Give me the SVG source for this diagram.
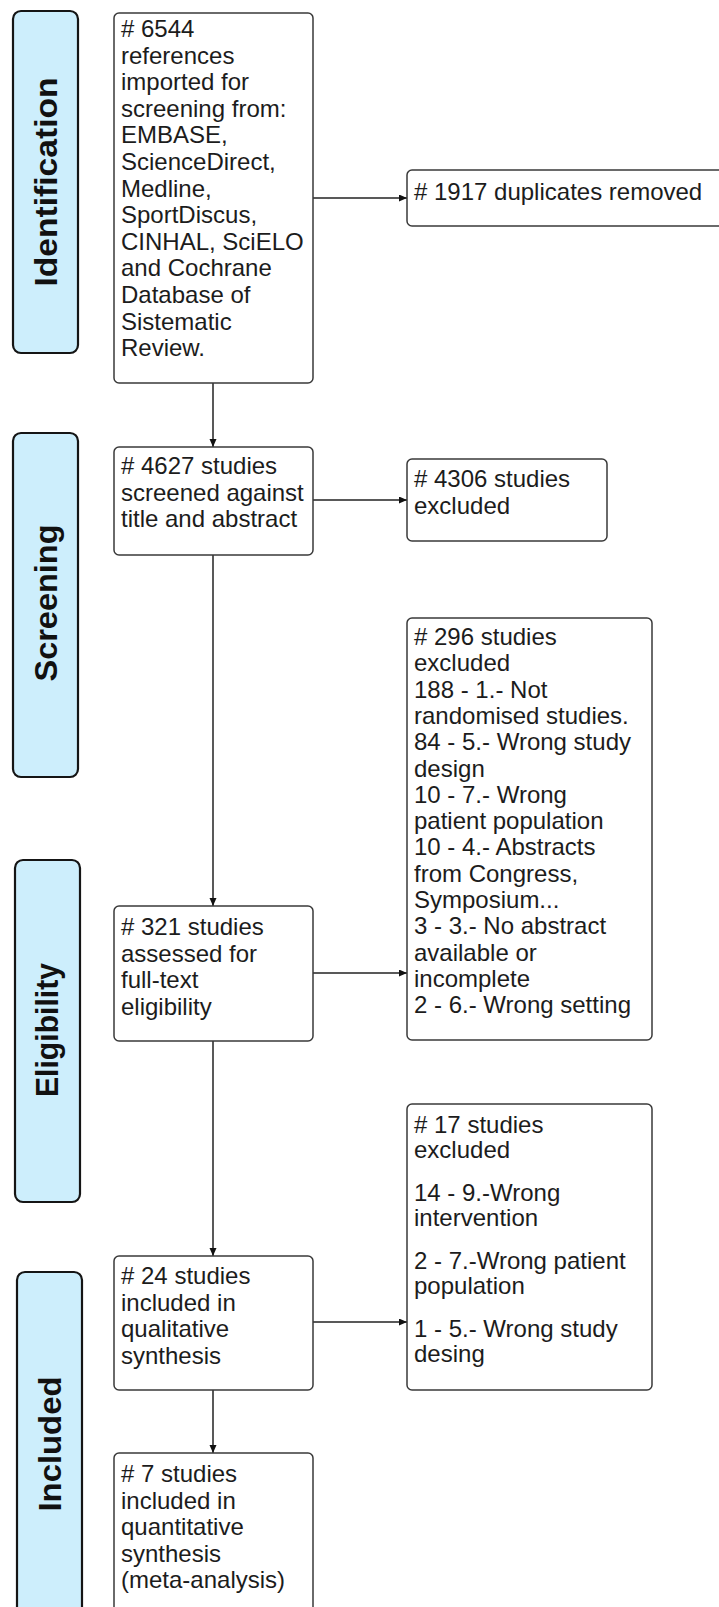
<svg xmlns="http://www.w3.org/2000/svg" width="719" height="1607" viewBox="0 0 719 1607">
<style>
.bg{fill:#ffffff}
.phase{fill:#cdeefc;stroke:#151515;stroke-width:2.2}
.ptxt{font-family:"Liberation Sans",Arial,sans-serif;font-weight:bold;font-size:32px;fill:#111;text-anchor:middle}
.box{fill:#ffffff;stroke:#3a3a3a;stroke-width:1.5}
.t{font-family:"Liberation Sans",Arial,sans-serif;font-size:24px;fill:#1c1c1c}
.conn{stroke:#222;stroke-width:1.5;fill:none;marker-end:url(#ah)}
</style>
<defs>
<marker id="ah" markerUnits="userSpaceOnUse" markerWidth="9" markerHeight="8" refX="8" refY="3.5" orient="auto">
<path d="M0,0 L8,3.5 L0,7 z" fill="#111"/>
</marker>
</defs>
<rect class="bg" x="0" y="0" width="719" height="1607"/>

<g id="phase-identification">
<rect class="phase" x="13" y="11" width="65" height="342" rx="8"/>
<text class="ptxt" transform="translate(57,182) rotate(-90)" textLength="209" lengthAdjust="spacingAndGlyphs">Identification</text>
</g>
<g id="phase-screening">
<rect class="phase" x="13" y="433" width="65" height="344" rx="8"/>
<text class="ptxt" transform="translate(57,603) rotate(-90)" textLength="157" lengthAdjust="spacingAndGlyphs">Screening</text>
</g>
<g id="phase-eligibility">
<rect class="phase" x="15" y="860" width="65" height="342" rx="8"/>
<text class="ptxt" transform="translate(58,1030) rotate(-90)" textLength="134" lengthAdjust="spacingAndGlyphs">Eligibility</text>
</g>
<g id="phase-included">
<rect class="phase" x="17" y="1272" width="65" height="360" rx="8"/>
<text class="ptxt" transform="translate(61,1444) rotate(-90)" textLength="135" lengthAdjust="spacingAndGlyphs">Included</text>
</g>

<g id="connectors">
<line class="conn" x1="213" y1="383" x2="213" y2="447"/>
<line class="conn" x1="313" y1="198" x2="407" y2="198"/>
<line class="conn" x1="313" y1="500" x2="407" y2="500"/>
<line class="conn" x1="213" y1="555" x2="213" y2="906"/>
<line class="conn" x1="313" y1="973" x2="407" y2="973"/>
<line class="conn" x1="213" y1="1041" x2="213" y2="1256"/>
<line class="conn" x1="313" y1="1322" x2="407" y2="1322"/>
<line class="conn" x1="213" y1="1390" x2="213" y2="1453"/>
</g>

<g id="n-records">
<rect class="box" x="114" y="13" width="199" height="370" rx="5"/>
<text class="t">
<tspan x="121" y="37"># 6544</tspan>
<tspan x="121" y="63.6">references</tspan>
<tspan x="121" y="90.2">imported for</tspan>
<tspan x="121" y="116.8">screening from:</tspan>
<tspan x="121" y="143.4">EMBASE,</tspan>
<tspan x="121" y="170">ScienceDirect,</tspan>
<tspan x="121" y="196.6">Medline,</tspan>
<tspan x="121" y="223.2">SportDiscus,</tspan>
<tspan x="121" y="249.8">CINHAL, SciELO</tspan>
<tspan x="121" y="276.4">and Cochrane</tspan>
<tspan x="121" y="303">Database of</tspan>
<tspan x="121" y="329.6">Sistematic</tspan>
<tspan x="121" y="356.2">Review.</tspan>
</text>
</g>

<g id="n-duplicates">
<rect class="box" x="407" y="170" width="330" height="56" rx="5"/>
<text class="t" x="414" y="200"># 1917 duplicates removed</text>
</g>

<g id="n-screened">
<rect class="box" x="114" y="447" width="199" height="108" rx="5"/>
<text class="t">
<tspan x="121" y="474"># 4627 studies</tspan>
<tspan x="121" y="500.5">screened against</tspan>
<tspan x="121" y="527">title and abstract</tspan>
</text>
</g>

<g id="n-excluded-screen">
<rect class="box" x="407" y="459" width="200" height="82" rx="5"/>
<text class="t">
<tspan x="414" y="487"># 4306 studies</tspan>
<tspan x="414" y="513.5">excluded</tspan>
</text>
</g>

<g id="n-excluded-full">
<rect class="box" x="407" y="618" width="245" height="422" rx="5"/>
<text class="t">
<tspan x="414" y="645"># 296 studies</tspan>
<tspan x="414" y="671.3">excluded</tspan>
<tspan x="414" y="697.6">188 - 1.- Not</tspan>
<tspan x="414" y="723.9">randomised studies.</tspan>
<tspan x="414" y="750.2">84 - 5.- Wrong study</tspan>
<tspan x="414" y="776.5">design</tspan>
<tspan x="414" y="802.8">10 - 7.- Wrong</tspan>
<tspan x="414" y="829.1">patient population</tspan>
<tspan x="414" y="855.4">10 - 4.- Abstracts</tspan>
<tspan x="414" y="881.7">from Congress,</tspan>
<tspan x="414" y="908">Symposium...</tspan>
<tspan x="414" y="934.3">3 - 3.- No abstract</tspan>
<tspan x="414" y="960.6">available or</tspan>
<tspan x="414" y="986.9">incomplete</tspan>
<tspan x="414" y="1013.2">2 - 6.- Wrong setting</tspan>
</text>
</g>

<g id="n-assessed">
<rect class="box" x="114" y="906" width="199" height="135" rx="5"/>
<text class="t">
<tspan x="121" y="935"># 321 studies</tspan>
<tspan x="121" y="961.5">assessed for</tspan>
<tspan x="121" y="988">full-text</tspan>
<tspan x="121" y="1014.5">eligibility</tspan>
</text>
</g>

<g id="n-excluded-17">
<rect class="box" x="407" y="1104" width="245" height="286" rx="5"/>
<text class="t">
<tspan x="414" y="1133"># 17 studies</tspan>
<tspan x="414" y="1158">excluded</tspan>
<tspan x="414" y="1201">14 - 9.-Wrong</tspan>
<tspan x="414" y="1226">intervention</tspan>
<tspan x="414" y="1269">2 - 7.-Wrong patient</tspan>
<tspan x="414" y="1294">population</tspan>
<tspan x="414" y="1337">1 - 5.- Wrong study</tspan>
<tspan x="414" y="1362">desing</tspan>
</text>
</g>

<g id="n-qualitative">
<rect class="box" x="114" y="1256" width="199" height="134" rx="5"/>
<text class="t">
<tspan x="121" y="1284"># 24 studies</tspan>
<tspan x="121" y="1310.5">included in</tspan>
<tspan x="121" y="1337">qualitative</tspan>
<tspan x="121" y="1363.5">synthesis</tspan>
</text>
</g>

<g id="n-quantitative">
<rect class="box" x="114" y="1453" width="199" height="200" rx="5"/>
<text class="t">
<tspan x="121" y="1482"># 7 studies</tspan>
<tspan x="121" y="1508.5">included in</tspan>
<tspan x="121" y="1535">quantitative</tspan>
<tspan x="121" y="1561.5">synthesis</tspan>
<tspan x="121" y="1588">(meta-analysis)</tspan>
</text>
</g>
</svg>
